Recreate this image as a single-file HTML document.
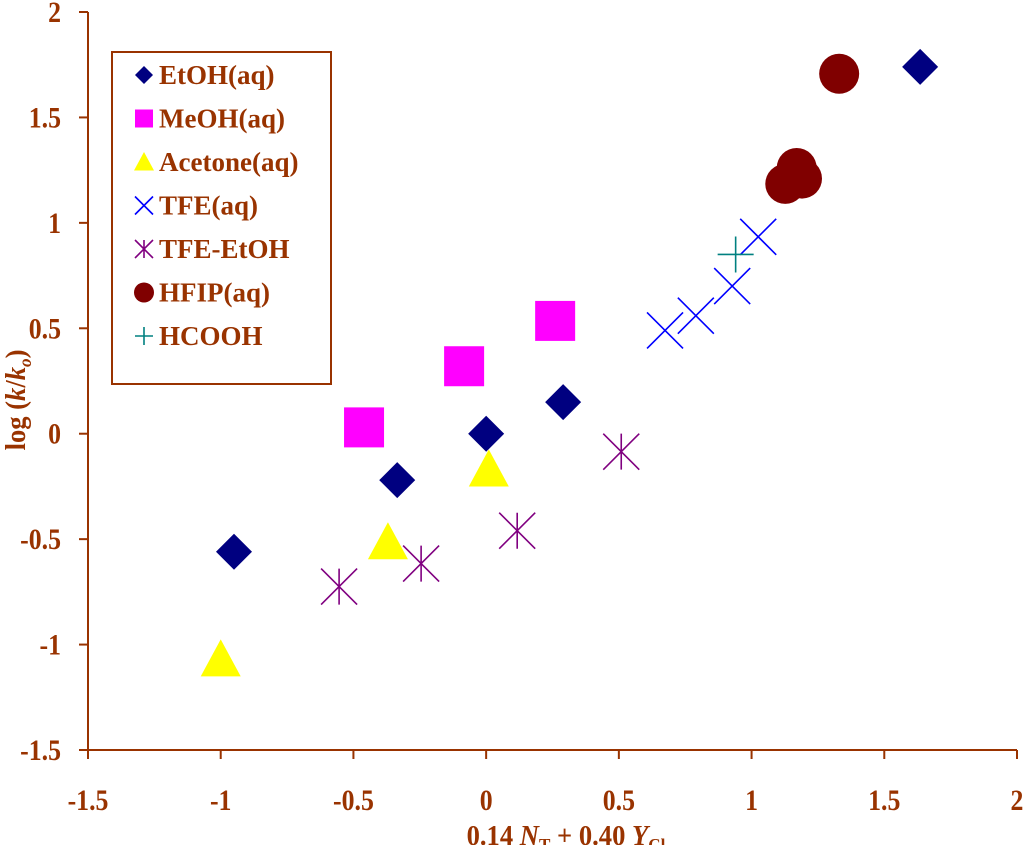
<!DOCTYPE html>
<html><head><meta charset="utf-8"><style>
body{margin:0;background:#fff;}
svg text{font-family:"Liberation Serif",serif;font-weight:bold;fill:#993300;}
</style></head><body>
<svg id="chart" width="1024" height="845" viewBox="0 0 1024 845" xmlns="http://www.w3.org/2000/svg">
<g id="axes"></g>
<g id="marks"></g>
<g id="legend"></g>
<text transform="translate(566,845) scale(0.95,1)" text-anchor="middle" font-size="28">0.14 <tspan font-style="italic">N</tspan><tspan font-size="18" dy="6">T</tspan><tspan dy="-6"> + 0.40 </tspan><tspan font-style="italic">Y</tspan><tspan font-size="18" dy="6">Cl</tspan></text>
<text transform="translate(25,400) rotate(-90) scale(0.95,1)" text-anchor="middle" font-size="28">log (<tspan font-style="italic">k</tspan>/<tspan font-style="italic">k</tspan><tspan font-size="18" dy="6" font-style="italic">o</tspan><tspan dy="-6">)</tspan></text>
</svg>
<script>
const xTicks=[-1.5,-1,-0.5,0,0.5,1,1.5,2];
const yTicks=[-1.5,-1,-0.5,0,0.5,1,1.5,2];
const etohX=[-0.95,-0.335,0,0.29,1.635];
const etohY=[-0.56,-0.22,0,0.15,1.74];
const meohX=[-0.46,-0.083,0.26];
const meohY=[0.03,0.32,0.535];
const acetX=[-1.0,-0.37,0.01];
const acetY=[-1.07,-0.515,-0.17];
const tfeX=[0.674,0.79,0.927,1.025];
const tfeY=[0.49,0.56,0.70,0.934];
const tfeEtohX=[-0.554,-0.245,0.117,0.509];
const tfeEtohY=[-0.725,-0.616,-0.46,-0.085];
const hfipX=[1.127,1.17,1.19,1.33];
const hfipY=[1.185,1.26,1.21,1.707];
const hcoohX=[0.94];
const hcoohY=[0.85];
const legendLabels=["EtOH(aq)","MeOH(aq)","Acetone(aq)","TFE(aq)","TFE-EtOH","HFIP(aq)","HCOOH"];

const NS="http://www.w3.org/2000/svg";
const X0=88,X1=1017,Y0=750,Y1=12;
const sx=v=>X0+(v+1.5)/3.5*(X1-X0);
const sy=v=>Y0-(v+1.5)/3.5*(Y0-Y1);
const C="#993300";
function mk(tag,attrs,parent){const e=document.createElementNS(NS,tag);for(const k in attrs)e.setAttribute(k,attrs[k]);parent.appendChild(e);return e;}
const axes=document.getElementById('axes'),marks=document.getElementById('marks'),leg=document.getElementById('legend');
let a=mk('line',{x1:X0,y1:Y0,x2:X1,y2:Y0,stroke:C,'stroke-width':2},axes);

a=mk('line',{x1:X0,y1:Y0,x2:X0,y2:Y1,stroke:C,'stroke-width':2},axes);

xTicks.forEach(t=>{const x=sx(t);
 mk('line',{x1:x,y1:Y0,x2:x,y2:Y0+9,stroke:C,'stroke-width':2},axes);
 const tx=mk('text',{transform:`translate(${x},${Y0+60}) scale(0.86,1)`,'text-anchor':'middle','font-size':30},axes);tx.textContent=t;
 });
yTicks.forEach(t=>{const y=sy(t);
 mk('line',{x1:X0-9,y1:y,x2:X0,y2:y,stroke:C,'stroke-width':2},axes);
 const tx=mk('text',{transform:`translate(61,${y+10}) scale(0.86,1)`,'text-anchor':'end','font-size':30},axes);tx.textContent=t;
 });

function draw(type,x,y,s,g){
 if(type==='diamond')return mk('polygon',{points:`${x},${y-s} ${x+s},${y} ${x},${y+s} ${x-s},${y}`,fill:'#000080'},g);
 if(type==='square')return mk('rect',{x:x-s,y:y-s,width:2*s,height:2*s,fill:'#ff00ff'},g);
 if(type==='triangle')return mk('polygon',{points:`${x},${y-s} ${x+s},${y+s*0.85} ${x-s},${y+s*0.85}`,fill:'#ffff00'},g);
 if(type==='circle')return mk('circle',{cx:x,cy:y,r:s,fill:'#800000'},g);
 if(type==='x')return mk('path',{d:`M${x-s},${y-s}L${x+s},${y+s}M${x-s},${y+s}L${x+s},${y-s}`,stroke:'#0000ff','stroke-width':1.6,fill:'none'},g);
 if(type==='star')return mk('path',{d:`M${x-s},${y-s}L${x+s},${y+s}M${x-s},${y+s}L${x+s},${y-s}M${x},${y-s}L${x},${y+s}`,stroke:'#800080','stroke-width':1.6,fill:'none'},g);
 if(type==='plus')return mk('path',{d:`M${x-s},${y}L${x+s},${y}M${x},${y-s}L${x},${y+s}`,stroke:'#008080','stroke-width':1.6,fill:'none'},g);
}
const series=[
 ['etoh','diamond',etohX,etohY,18,9],
 ['meoh','square',meohX,meohY,20,9],
 ['acetone','triangle',acetX,acetY,20,10],
 ['tfe','x',tfeX,tfeY,18,9],
 ['tfe-etoh','star',tfeEtohX,tfeEtohY,18,9],
 ['hfip','circle',hfipX,hfipY,20,10],
 ['hcooh','plus',hcoohX,hcoohY,18,9]];
series.forEach(([n,t,xs,ys,s])=>{
 const g=mk('g',{},marks);
 xs.forEach((v,i)=>{const e=draw(t,sx(v),sy(ys[i]),s,g);
  
  });
});
const box=mk('rect',{x:112,y:52,width:219,height:332,fill:'#fff',stroke:C,'stroke-width':2},leg);

series.forEach(([n,t,xs,ys,s,ls],i)=>{
 const y=75+i*43.5;
 const g=mk('g',{},leg);
 draw(t,144,y,ls,g);
 const tx=mk('text',{transform:`translate(159,${y+9})`,'font-size':27},g);tx.textContent=legendLabels[i];
});
</script>
</body></html>
